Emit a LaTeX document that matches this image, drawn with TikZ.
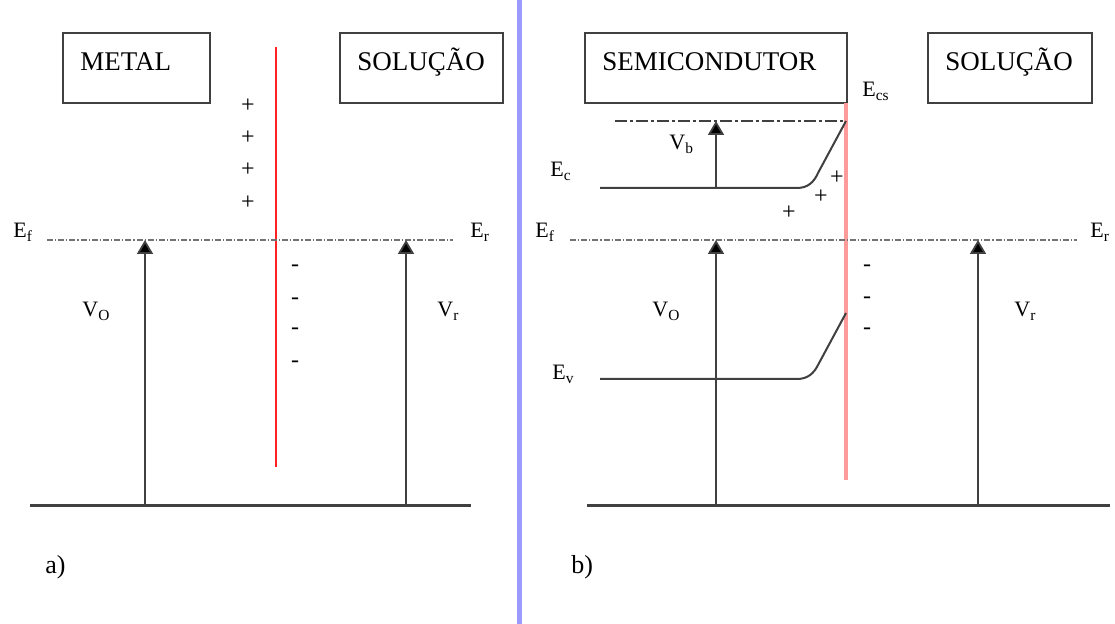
\documentclass[tikz,border=0pt]{standalone}
\usepackage{fontspec}
\setmainfont{Liberation Serif}
\usetikzlibrary{arrows.meta}
\definecolor{linegray}{HTML}{404040}
\definecolor{ifred}{HTML}{FF2020}
\definecolor{ifpink}{HTML}{FF9A9A}
\definecolor{sepblue}{HTML}{9A9AFF}
\newcommand{\lvl}[2]{#1\textsubscript{#2}}

\begin{document}
\begin{tikzpicture}[x=0.5pt, y=-0.5pt,
  box/.style={draw=linegray, line width=0.8pt, minimum width=#1,
              minimum height=35pt, inner sep=0pt},
  boxtext/.style={anchor=west, inner sep=0pt, font=\fontsize{13.5}{16}\selectfont},
  lbl/.style={anchor=base west, inner sep=0pt, font=\fontsize{11}{13}\selectfont},
  chg/.style={inner sep=0pt, font=\fontsize{12}{14}\selectfont},
  arr/.style={-{Triangle[length=7pt, width=8pt, fill=black]}, line width=0.9pt, draw=linegray},
  level/.style={line width=0.6pt, draw=gray!90!black, dash pattern=on 3pt off 1pt on 0.6pt off 1pt},
  bandtop/.style={line width=0.6pt, draw=linegray, dash pattern=on 6pt off 1.5pt on 1.5pt off 1.5pt},
  band/.style={line width=1pt, draw=linegray},
  ground/.style={line width=1.5pt, draw=linegray}]
\fill[white] (0,0) rectangle (1115,624);
\useasboundingbox (0,0) rectangle (1115,624);

% separator
\coordinate (sep0) at (519,0);
\coordinate (sep1) at (519,624);
\draw[sepblue, line width=2.5pt] (sep0) -- (sep1);

% ---- a) metal ----
\node[box=73.5pt] (metal) at (136.5,68) {};
\node[boxtext] (metalt) at (80,62) {METAL};
\node[box=81.5pt] (solA) at (421.5,68) {};
\node[boxtext] (solAt) at (357,62) {SOLUÇÃO};

\coordinate (ifA0) at (276,47);
\coordinate (ifA1) at (276,467);
\draw[ifred, line width=1pt] (ifA0) -- (ifA1);

\coordinate (efA0) at (47,240);
\coordinate (efA1) at (453,240);
\draw[level] (efA0) -- (efA1);
\node[lbl] (efAl) at (13,238) {\lvl{E}{f}};
\node[lbl] (erAl) at (470,238) {\lvl{E}{r}};

\coordinate (gA0) at (30,506);
\coordinate (gA1) at (471,506);
\draw[ground] (gA0) -- (gA1);
\coordinate (voA0) at (145,506);
\coordinate (voA1) at (145,240);
\draw[arr] (voA0) -- (voA1);
\coordinate (vrA0) at (406,506);
\coordinate (vrA1) at (406,240);
\draw[arr] (vrA0) -- (vrA1);
\node[lbl] (voAl) at (82,317) {\lvl{V}{O}};
\node[lbl] (vrAl) at (437,317) {\lvl{V}{r}};

\foreach \y in {106,138,170,203}
  \node[chg] (pA\y) at (248,\y) {+};
\foreach \y in {268,301,331,364}
  \node[chg] (mA\y) at (295,\y) {-};

\node[anchor=base west, inner sep=0pt, font=\fontsize{13}{15}\selectfont] (capA) at (45,574) {a)};

% ---- b) semiconductor ----
\node[box=131pt] (semi) at (716,68) {};
\node[boxtext] (semit) at (602,62) {SEMICONDUTOR};
\node[box=82pt] (solB) at (1010,68) {};
\node[boxtext] (solBt) at (945,62) {SOLUÇÃO};

\coordinate (ifB0) at (846,103);
\coordinate (ifB1) at (846,480);
\draw[ifpink, line width=2pt] (ifB0) -- (ifB1);
\node[lbl] (ecsl) at (862,97) {\lvl{E}{cs}};

\coordinate (cs0) at (615,121);
\coordinate (cs1) at (846,121);
\draw[bandtop] (cs0) -- (cs1);

\coordinate (ec0) at (600,188);
\coordinate (ec1) at (797,188);
\coordinate (ec2) at (818,173);
\draw[band] (ec0) -- (ec1) .. controls (808,188) and (814,182) .. (ec2) -- (cs1);
\node[lbl] (ecl) at (550,177) {\lvl{E}{c}};

\coordinate (ev0) at (600,379);
\coordinate (ev1) at (797,379);
\coordinate (ev2) at (818,365);
\coordinate (ev3) at (846,313);
\draw[band] (ev0) -- (ev1) .. controls (808,379) and (814,373) .. (ev2) -- (ev3);
\node[lbl] (evl) at (552,380) {\lvl{E}{v}};

\coordinate (vb0) at (716,188);
\coordinate (vb1) at (716,121);
\draw[arr] (vb0) -- (vb1);
\node[lbl] (vbl) at (669,150) {\lvl{V}{b}};

\coordinate (efB0) at (570,240);
\coordinate (efB1) at (1077,240);
\draw[level] (efB0) -- (efB1);
\node[lbl] (efBl) at (535,238) {\lvl{E}{f}};
\node[lbl] (erBl) at (1090,238) {\lvl{E}{r}};

\coordinate (gB0) at (587,506);
\coordinate (gB1) at (1110,506);
\draw[ground] (gB0) -- (gB1);
\coordinate (voB0) at (716,506);
\coordinate (voB1) at (716,240);
\draw[arr] (voB0) -- (voB1);
\coordinate (vrB0) at (978,506);
\coordinate (vrB1) at (978,240);
\draw[arr] (vrB0) -- (vrB1);
\node[lbl] (voBl) at (652,317) {\lvl{V}{O}};
\node[lbl] (vrBl) at (1014,317) {\lvl{V}{r}};

\node[chg] (pB1) at (837,178) {+};
\node[chg] (pB2) at (821,197) {+};
\node[chg] (pB3) at (789,213) {+};
\foreach \y in {268,300,331}
  \node[chg] (mB\y) at (867,\y) {-};

\node[anchor=base west, inner sep=0pt, font=\fontsize{13}{15}\selectfont] (capB) at (571,574) {b)};
\end{tikzpicture}
\end{document}
